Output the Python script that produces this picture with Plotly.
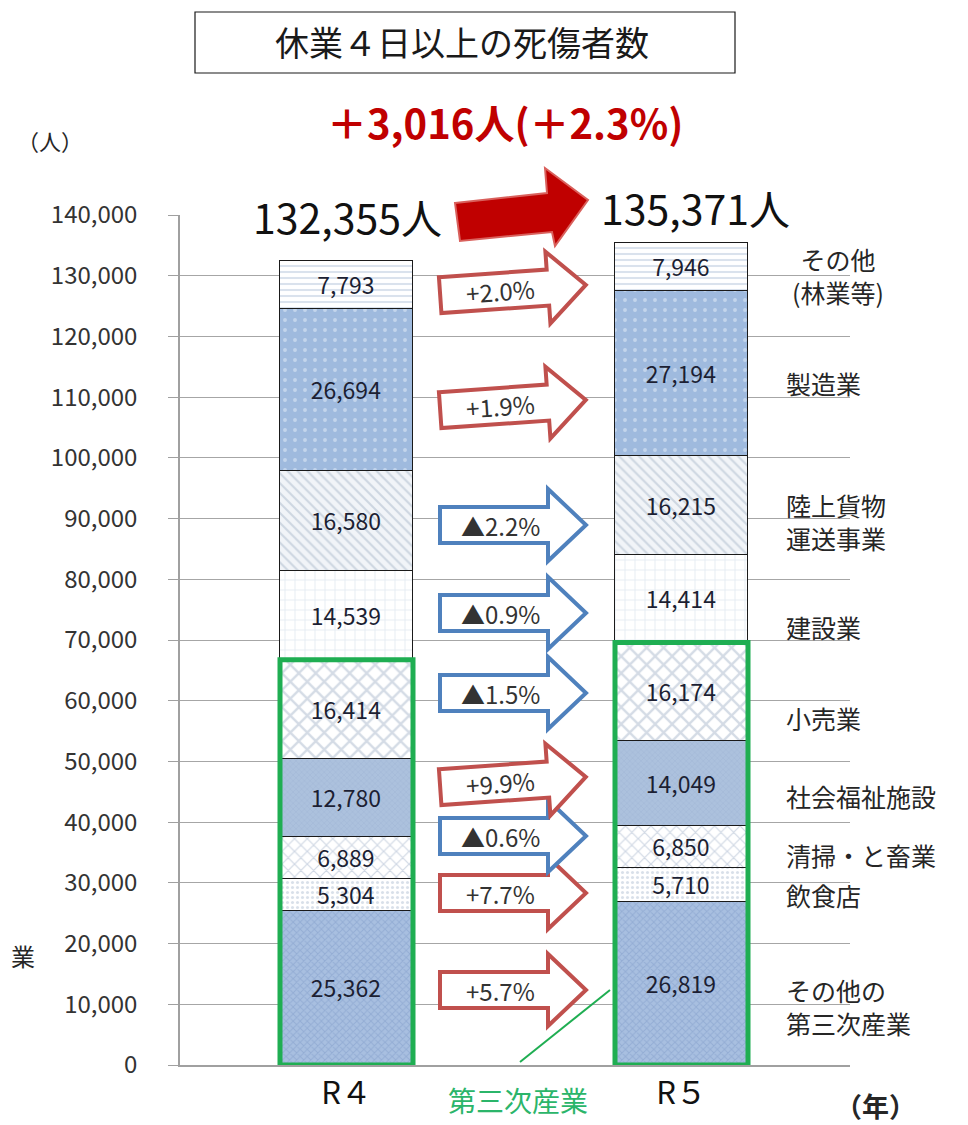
import math
import plotly.graph_objects as go

# ---------------- data ----------------
years = ["R４", "R５"]
categories = ["その他の第三次産業", "飲食店", "清掃・と畜業", "社会福祉施設", "小売業",
              "建設業", "陸上貨物運送事業", "製造業", "その他(林業等)"]
r4_values = [25362, 5304, 6889, 12780, 16414, 14539, 16580, 26694, 7793]
r5_values = [26819, 5710, 6850, 14049, 16174, 14414, 16215, 27194, 7946]
tertiary_count = 5  # bottom five segments = 第三次産業
right_labels = ["その他の<br>第三次産業", "飲食店", "清掃・と畜業", "社会福祉施設", "小売業",
                "建設業", "陸上貨物<br>運送事業", "製造業", "その他<br>(林業等)"]
y_ticks = list(range(0, 140001, 10000))

# ---------------- layout constants (screen pixels) ----------------
OFF = 8                                      # page body margin
W, H = 968 - OFF, 1125 - OFF
PL, PR, PT, PB = 180, 850, 215, 1065        # plot area box on screen
X0_PX, X1_PX = 346.5, 681.5                  # centers of the two bars
YMAX = 140000
UNIT = X1_PX - X0_PX
XR = [(PL - X0_PX) / UNIT, 1 + (PR - X1_PX) / UNIT]
BAR_W = 133 / UNIT


def dx(px):
    return (px - X0_PX) / UNIT


def dy(py):
    return (PB - py) * YMAX / (PB - PT)


def pxx(px):
    return (px - PL) / (PR - PL)


def pyy(py):
    return (PB - py) / (PB - PT)


FONT = "Noto Sans CJK JP, Noto Sans, sans-serif"

styles = [
    dict(bg="#a8bfe0", fg="#7f9bc8", shape="x", size=5, sol=0.35),   # その他の第三次産業
    dict(bg="#ffffff", fg="#b3c1d4", shape=".", size=5, sol=0.3),    # 飲食店
    dict(bg="#ffffff", fg="#9fb0c8", shape="x", size=9, sol=0.25),   # 清掃・と畜業
    dict(bg="#acc1dd", fg="#9ab1d0", shape="x", size=4, sol=0.3),    # 社会福祉施設
    dict(bg="#ffffff", fg="#a9b8cc", shape="x", size=12, sol=0.35),  # 小売業
    dict(bg="#ffffff", fg="#c3d0e3", shape="+", size=10, sol=0.15),  # 建設業
    dict(bg="#f1f4f8", fg="#aab8ca", shape="\\", size=7, sol=0.3),   # 陸上貨物運送事業
    dict(bg="#9fbade", fg="#e8f0fa", shape=".", size=10, sol=0.12),  # 製造業
    dict(bg="#ffffff", fg="#b5c6dc", shape="-", size=6, sol=0.35),   # その他(林業等)
]

fig = go.Figure()
for i, cat in enumerate(categories):
    st = styles[i]
    vals = [r4_values[i], r5_values[i]]
    fig.add_trace(go.Bar(
        x=[0, 1], y=vals, name=cat, width=BAR_W,
        marker=dict(color=st["bg"], line=dict(color="#1a1a1a", width=1.2),
                    pattern=dict(shape=st["shape"], fgcolor=st["fg"], size=st["size"],
                                 solidity=st["sol"], fillmode="overlay")),
        text=[f"{v:,}" for v in vals], textposition="inside", insidetextanchor="middle",
        textangle=0, textfont=dict(size=23, color="#1c1f33", family=FONT),
        showlegend=False, hoverinfo="skip",
    ))

shapes = []
annotations = []


def note(text, x, y, size, color="#262626", xref="paper", yref="paper", xanchor="center",
         align="center", angle=0):
    annotations.append(dict(text=text, xref=xref, yref=yref, x=x, y=y, xanchor=xanchor,
                            yanchor="middle", align=align, showarrow=False, textangle=angle,
                            font=dict(size=size, color=color, family=FONT)))


# green boxes around tertiary industry
for xi, vals in enumerate([r4_values, r5_values]):
    top = sum(vals[:tertiary_count])
    shapes.append(dict(type="rect", xref="x", yref="y", x0=xi - BAR_W / 2, x1=xi + BAR_W / 2,
                       y0=0, y1=top, line=dict(color="#1fae52", width=5), layer="above"))

# green callout line + label
shapes.append(dict(type="line", xref="x", yref="y", x0=dx(520), y0=dy(1062), x1=dx(610), y1=dy(990),
                   line=dict(color="#1fae52", width=2)))
note("第三次産業", pxx(518), pyy(1100), 28, color="#2bb56a")

# change arrows between bars
arrow_center_py = [990, 893, 836, 782, 693, 613, 525, 405, 290]
arrow_tilt = [0, 0, 0, -4, 0, 0, 0, -4, -4]


def rot(pts, cx, cy, deg):
    a = math.radians(deg)
    out = []
    for x, y in pts:
        x2 = cx + (x - cx) * math.cos(a) - (y - cy) * math.sin(a)
        y2 = cy + (x - cx) * math.sin(a) + (y - cy) * math.cos(a)
        out.append((x2, y2))
    return out


for i in range(len(categories)):
    a, b = r4_values[i], r5_values[i]
    pct = (b / a - 1) * 100
    label = f"+{pct:.1f}%" if pct >= 0 else f"▲{abs(pct):.1f}%"
    col = "#c0504d" if pct >= 0 else "#4f81bd"
    cy = arrow_center_py[i]
    tail, neck, tip = 440, 548, 586
    bh, hh = 18, 36
    pts = [(tail, cy - bh), (neck, cy - bh), (neck, cy - hh), (tip, cy), (neck, cy + hh),
           (neck, cy + bh), (tail, cy + bh)]
    pts = rot(pts, (tail + tip) / 2, cy, arrow_tilt[i])
    path = "M " + " L ".join(f"{dx(x)},{dy(y)}" for x, y in pts) + " Z"
    shapes.append(dict(type="path", xref="x", yref="y", path=path, fillcolor="white",
                       line=dict(color=col, width=4), layer="above"))
    note(label, dx(500), dy(cy), 24, color="#333333", xref="x", yref="y", angle=arrow_tilt[i])

# right side category labels
label_py = [1006, 895, 855, 796, 718, 627, 521, 383, 275]
for i, lab in enumerate(right_labels):
    if i == len(right_labels) - 1:
        note(lab, dx(838), dy(label_py[i]), 25, xref="x", yref="y")
    else:
        note(lab, dx(784), dy(label_py[i]), 25, xref="x", yref="y", xanchor="left", align="left")

# totals
tot4, tot5 = sum(r4_values), sum(r5_values)
note(f"{tot4:,}人", pxx(347), pyy(216), 41, color="#111111")
note(f"{tot5:,}人", pxx(695), pyy(207), 41, color="#111111")
diff = tot5 - tot4
note(f"<b>＋{diff:,}人(＋{diff / tot4 * 100:.1f}%)</b>", pxx(505), pyy(122), 40, color="#c00000")

# big red arrow
big = [(455, 203), (547, 193), (545, 168), (588, 200), (555, 246), (552, 232), (460, 241)]
shapes.append(dict(type="path", xref="paper", yref="paper",
                   path="M " + " L ".join(f"{pxx(x)},{pyy(y)}" for x, y in big) + " Z",
                   fillcolor="#c00000", line=dict(color="#d9605c", width=2), layer="above"))

# title box
shapes.append(dict(type="rect", xref="paper", yref="paper", x0=pxx(195), x1=pxx(735),
                   y0=pyy(73), y1=pyy(12), line=dict(color="#1a1a1a", width=1.2), fillcolor="white"))
note("休業４日以上の死傷者数", pxx(462), pyy(42), 34, color="#1a1a1a")

# axis unit labels
note("（人）", pxx(15), pyy(140), 22, xanchor="left")
note("<b>（年）</b>", pxx(875), pyy(1105), 27)
note("業", pxx(9), pyy(955), 24, xanchor="left")

fig.update_layout(
    width=W, height=H, barmode="stack", bargap=0,
    margin=dict(l=PL - OFF, r=W + OFF - PR, t=PT - OFF, b=H + OFF - PB, pad=0),
    paper_bgcolor="white", plot_bgcolor="white",
    font=dict(family=FONT),
    shapes=shapes, annotations=annotations, showlegend=False,
    uniformtext=dict(minsize=23, mode="show"),
    xaxis=dict(range=XR, tickvals=[0, 1], ticktext=years, showgrid=False, zeroline=False,
               showline=True, linecolor="#a0a0a0", linewidth=1.5, ticks="",
               tickfont=dict(size=31, color="#111111", family=FONT), fixedrange=True),
    yaxis=dict(range=[0, YMAX], tickvals=y_ticks, tickformat=",", showgrid=True,
               gridcolor="#a6a6a6", gridwidth=1, zeroline=False, showline=True,
               linecolor="#a0a0a0", linewidth=1.5, ticks="outside", ticklen=10,
               tickcolor="#a0a0a0", ticklabelstandoff=26,
               tickfont=dict(size=24, color="#333333", family=FONT), fixedrange=True),
)

fig.write_html("out.html")
